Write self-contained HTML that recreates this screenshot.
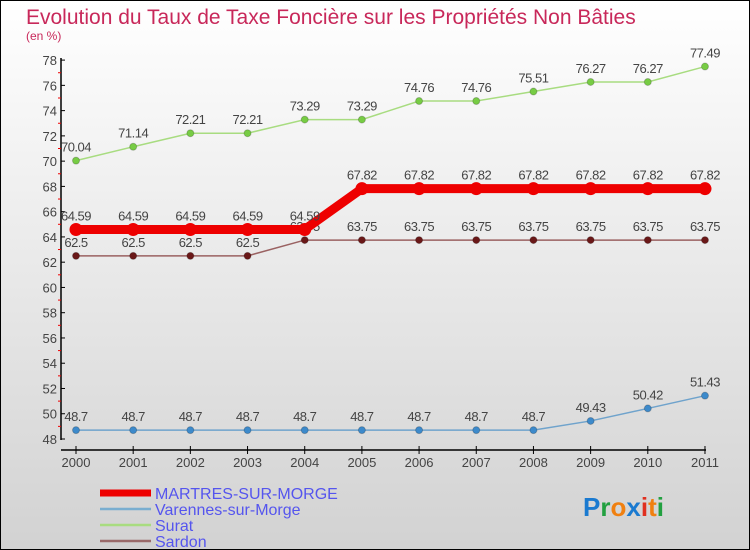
<!DOCTYPE html>
<html><head><meta charset="utf-8"><style>
body{margin:0}
#c{position:relative;width:750px;height:550px;box-sizing:border-box;border:1px solid #000;background:linear-gradient(#ffffff,#d2d2d2);overflow:hidden;font-family:"Liberation Sans",sans-serif}
</style></head><body>
<div id="c">
<svg id="s" width="750" height="550" style="position:absolute;left:-1px;top:-1px;font-family:'Liberation Sans',sans-serif">
<text x="26" y="24" font-size="21" fill="#c8285a">Evolution du Taux de Taxe Foncière sur les Propriétés Non Bâties</text>
<text x="26" y="40" font-size="12" fill="#c8285a">(en %)</text>
</svg>
</div>
<script>
const years=[2000,2001,2002,2003,2004,2005,2006,2007,2008,2009,2010,2011];
const martres=[64.59,64.59,64.59,64.59,64.59,67.82,67.82,67.82,67.82,67.82,67.82,67.82];
const varennes=[48.7,48.7,48.7,48.7,48.7,48.7,48.7,48.7,48.7,49.43,50.42,51.43];
const surat=[70.04,71.14,72.21,72.21,73.29,73.29,74.76,74.76,75.51,76.27,76.27,77.49];
const sardon=[62.5,62.5,62.5,62.5,63.75,63.75,63.75,63.75,63.75,63.75,63.75,63.75];
const yTicks=[48,50,52,54,56,58,60,62,64,66,68,70,72,74,76,78];
const s=document.getElementById('s');const NS='http://www.w3.org/2000/svg';
const X=i=>76+i*57.18, Y=v=>439-(v-48)*12.63;
function mk(t,a,p){const e=document.createElementNS(NS,t);for(const k in a)e.setAttribute(k,a[k]);(p||s).appendChild(e);return e;}
let e;
e=mk('line',{x1:61,y1:58,x2:61,y2:440,stroke:'#000','stroke-width':1.5});

e=mk('line',{x1:61,y1:450,x2:706,y2:450,stroke:'#000','stroke-width':1.5});

yTicks.forEach(v=>{mk('line',{x1:61,y1:Y(v),x2:65,y2:Y(v),stroke:'#000'});
 if(v<78)mk('line',{x1:58,y1:Y(v+1),x2:61,y2:Y(v+1),stroke:'#e00'});
 e=mk('text',{x:57,y:Y(v)+5,'text-anchor':'end','font-size':13,fill:'#444'});e.textContent=v;
 });
years.forEach((y,i)=>{mk('line',{x1:X(i),y1:446,x2:X(i),y2:454,stroke:'#000'});
 e=mk('text',{x:X(i),y:467,'text-anchor':'middle','font-size':13,fill:'#444'});e.textContent=y;
 });
function series(d,col,lw,r,mcol,name){
 const g=mk('g',{});
 mk('polyline',{points:d.map((v,i)=>X(i)+','+Y(v)).join(' '),fill:'none',stroke:col,'stroke-width':lw},g);
 d.forEach((v,i)=>{const c=mk('circle',{cx:X(i),cy:Y(v),r:r,fill:mcol,stroke:mcol=='#e00'?'none':'#0003'},g);
  
  const t=mk('text',{x:X(i),y:Y(v)-9,'text-anchor':'middle','font-size':13,fill:'#444','letter-spacing':'-0.5'},g);t.textContent=v;});
}
series(varennes,'#6fa3cc',1.5,3.5,'#3d8acb','varennes');
series(surat,'#a8dc80',1.5,3.5,'#77cc44','surat');
series(sardon,'#9a6262',1.5,3.5,'#6a1818','sardon');
series(martres,'#e00',9,6.5,'#e00','martres');
const leg=[['MARTRES-SUR-MORGE','#e00',7],['Varennes-sur-Morge','#7aaed0',2.5],['Surat','#a8dc80',2.5],['Sardon','#9a6a6a',2.5]];
leg.forEach((l,i)=>{const y=493+i*16;
 e=mk('line',{x1:100,y1:y,x2:151,y2:y,stroke:l[1],'stroke-width':l[2]});
 e=mk('text',{x:155,y:y+6,'font-size':16,fill:'#5555ee'});e.textContent=l[0];
 });
e=mk('text',{x:583,y:516,'font-size':26,'font-weight':'bold'});
[['P','#1a7ad0'],['r','#22a040'],['o','#f08010'],['x','#1a7ad0'],['i','#e03020'],['t','#f08010'],['i','#22a040']].forEach(c=>{const t=mk('tspan',{fill:c[1]},e);t.textContent=c[0];});
</script>
</body></html>
